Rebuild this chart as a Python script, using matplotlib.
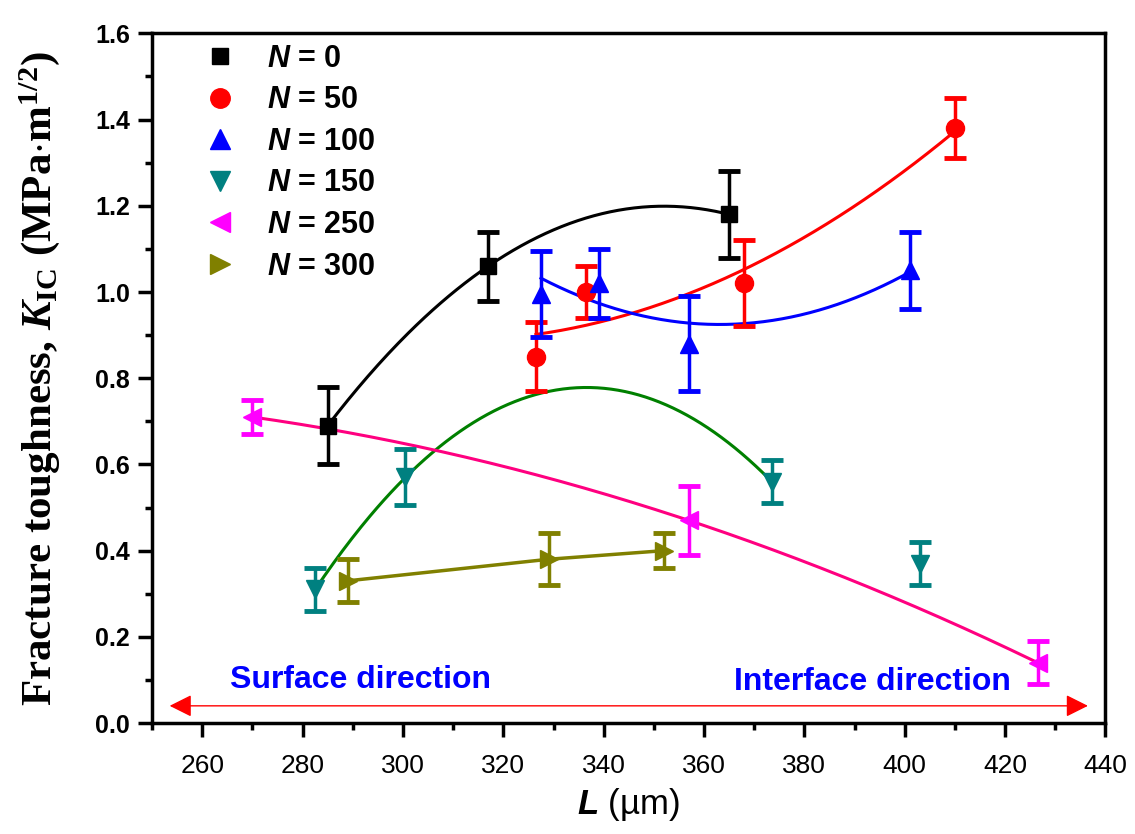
import numpy as np
import matplotlib.pyplot as plt
from matplotlib.lines import Line2D
from matplotlib.ticker import MultipleLocator

plt.rcParams['mathtext.fontset'] = 'custom'
plt.rcParams['mathtext.rm'] = 'Liberation Serif:bold'
plt.rcParams['mathtext.it'] = 'Liberation Serif:bold:italic'
plt.rcParams['mathtext.bf'] = 'Liberation Sans:bold'
plt.rcParams['mathtext.bfit'] = 'Liberation Sans:bold:italic'

############################### Datos ###############################
# N = 0
L_0   = [285.0, 317.0, 365.0]
K_0   = [0.69, 1.06, 1.18]
E_0   = [0.09, 0.08, 0.10]
# N = 50
L_50  = [326.5, 336.5, 368.0, 410.0]
K_50  = [0.85, 1.00, 1.02, 1.38]
E_50  = [0.08, 0.06, 0.10, 0.07]
# N = 100
L_100 = [327.5, 339.0, 357.0, 401.0]
K_100 = [0.995, 1.02, 0.88, 1.05]
E_100 = [0.10, 0.08, 0.11, 0.09]
# N = 150
L_150 = [282.5, 300.5, 373.5, 403.0]
K_150 = [0.31, 0.57, 0.56, 0.37]
E_150 = [0.05, 0.065, 0.05, 0.05]
# N = 250
L_250 = [270.0, 357.0, 426.5]
K_250 = [0.71, 0.47, 0.14]
E_250 = [0.04, 0.08, 0.05]
# N = 300
L_300 = [289.0, 329.0, 352.0]
K_300 = [0.33, 0.38, 0.40]
E_300 = [0.05, 0.06, 0.04]

etiquetas = ['0', '50', '100', '150', '250', '300']

############################### Figura ###############################
fig = plt.figure(figsize=(11.35, 8.34), dpi=100)
ax = fig.add_axes([0.134, 0.133, 0.840, 0.827])

series = [
    (L_0,   K_0,   E_0,   's', 'black',   11),
    (L_50,  K_50,  E_50,  'o', 'red',     13),
    (L_100, K_100, E_100, '^', 'blue',    13),
    (L_150, K_150, E_150, 'v', '#008080', 13),
    (L_250, K_250, E_250, '<', '#FF00FF', 13),
    (L_300, K_300, E_300, '>', '#808000', 13),
]

for (x, y, e, m, c, ms) in series:
    ax.errorbar(x, y, yerr=e, fmt=m, color=c, ms=ms, mec=c,
                elinewidth=2.5, capsize=8, capthick=3.5, zorder=4)

### Ajustes cuadraticos
def ajuste(x, y, e, c, n=None, pond=False):
    x = np.array(x[:n]); y = np.array(y[:n]); e = np.array(e[:n])
    p = np.polyfit(x, y, 2, w=(1.0/e if pond else None))
    xx = np.linspace(x.min(), x.max(), 200)
    ax.plot(xx, np.polyval(p, xx), '-', color=c, lw=2.2, zorder=3)

ajuste(L_0, K_0, E_0, 'black')
ajuste(L_50, K_50, E_50, 'red')
ajuste(L_100, K_100, E_100, 'blue', pond=True)
ajuste(L_150, K_150, E_150, '#008000', n=3)
ajuste(L_250, K_250, E_250, '#FF0080')
ax.plot(L_300, K_300, '-', color='#808000', lw=2.5, zorder=3)

### Flecha doble
ax.annotate('', xy=(253.5, 0.04), xytext=(436.5, 0.04),
            arrowprops=dict(arrowstyle='<|-|>', color='red', lw=1.0,
                            mutation_scale=34, shrinkA=0, shrinkB=0))
ax.text(291.6, 0.081, 'Surface direction', color='blue', fontsize=23,
        fontweight='bold', family='Liberation Sans', ha='center', va='baseline')
ax.text(393.6, 0.077, 'Interface direction', color='blue', fontsize=23,
        fontweight='bold', family='Liberation Sans', ha='center', va='baseline')

### Ejes
ax.set_xlim(250, 440)
ax.set_ylim(0, 1.6)
ax.xaxis.set_major_locator(MultipleLocator(20))
ax.xaxis.set_minor_locator(MultipleLocator(10))
ax.yaxis.set_major_locator(MultipleLocator(0.2))
ax.yaxis.set_minor_locator(MultipleLocator(0.1))
ax.yaxis.set_major_formatter(plt.FuncFormatter(lambda v, p: '%.1f' % v))
ax.tick_params(which='major', direction='out', length=10, width=2.5)
ax.tick_params(which='minor', direction='out', length=5, width=2.5)
ax.tick_params(top=False, right=False, which='both')
ax.tick_params(axis='x', pad=12)
ax.tick_params(axis='y', pad=6)
for s in ax.spines.values():
    s.set_linewidth(2.5)
for t in ax.get_xticklabels():
    t.set_family('Liberation Sans'); t.set_fontsize(19)
for t in ax.get_yticklabels():
    t.set_family('Liberation Sans'); t.set_fontsize(18); t.set_fontweight('bold')

ax.set_xlabel(r'$\mathbfit{L}$ (µm)', family='Liberation Sans', fontsize=25, labelpad=6)
ax.set_ylabel(r'Fracture toughness, $\mathit{K}_{\mathrm{IC}}$ (MPa$\cdot$m$^{\mathrm{1/2}}$)',
              family='Liberation Serif', fontweight='bold', fontsize=31)
ax.yaxis.set_label_coords(-0.094, 0.5)

### Leyenda
handles = [Line2D([], [], ls='none', marker=m, color=c, ms=ms + 1)
           for (x, y, e, m, c, ms) in series]
labels = [r'$\mathbfit{N}$ = ' + t for t in etiquetas]
leg = ax.legend(handles, labels, loc='upper left', bbox_to_anchor=(0.01, 1.025),
                frameon=False, handletextpad=0.55, labelspacing=0.38,
                prop={'family': 'Liberation Sans', 'weight': 'bold', 'size': 22})

fig.savefig('out.png', dpi=100)
